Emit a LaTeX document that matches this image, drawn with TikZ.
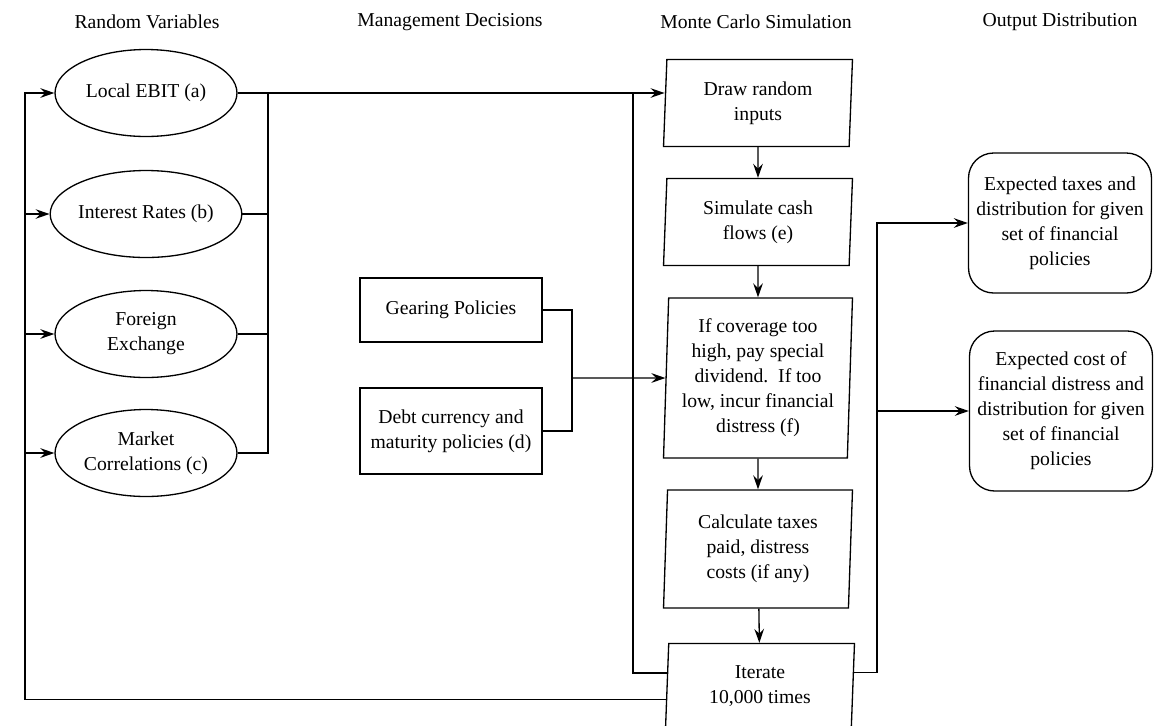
\documentclass[tikz,border=0pt]{standalone}
\usepackage{fontspec}
\setmainfont{Liberation Serif}
\usetikzlibrary{arrows.meta}
\usetikzlibrary{shapes.geometric}
\usetikzlibrary{positioning}

\begin{document}
\begin{tikzpicture}[x=0.02cm, y=-0.02cm, line width=0.75pt,
    font=\fontsize{11.2}{14.2}\selectfont,
    >={Stealth[length=8pt, width=5.5pt, inset=2.8pt]},
    randvar/.style={draw, ellipse, align=center, minimum width=3.64cm, minimum height=1.74cm, inner sep=0pt},
    policy/.style={draw, rectangle, align=center, minimum width=3.64cm, inner sep=0pt},
    simstep/.style={draw, trapezium, trapezium left angle=85.5, trapezium right angle=94.5,
      trapezium stretches body, align=center, minimum width=3.78cm, inner sep=0pt},
    result/.style={draw, rectangle, rounded corners=0.5cm, align=center, minimum width=3.66cm, inner sep=0pt},
    coltitle/.style={inner sep=0pt}]
      \useasboundingbox (0,0) rectangle (1163,725);
      \node [coltitle] (rvtitle) at (147,22) {Random Variables};
      \node [coltitle] (mdtitle) at (450,22) {Management Decisions};
      \node [coltitle] (mctitle) at (756,22) {Monte Carlo Simulation};
      \node [coltitle] (odtitle) at (1060,22) {Output Distribution};
      \node [randvar] (ebit) at (146,93) {Local EBIT (a)};
      \node [randvar] (rates) at (146,214) {Interest Rates (b)};
      \node [randvar] (fx) at (146,334) {Foreign\\Exchange};
      \node [randvar] (corr) at (146,453) {Market\\Correlations (c)};
      \node [policy, minimum height=1.28cm] (gear) at (451,310) {Gearing Policies};
      \node [policy, minimum height=1.72cm] (debt) at (451,431) {Debt currency and\\maturity policies (d)};
      \node [simstep, minimum height=1.74cm] (drawin) at (758,103) {Draw random\\inputs};
      \node [simstep, minimum height=1.74cm] (simcf) at (758,222) {Simulate cash\\flows (e)};
      \node [simstep, minimum height=3.2cm, trapezium left angle=87.5, trapezium right angle=92.5] (cover) at (758,378) {If coverage too\\high, pay special\\dividend.\ \ If too\\low, incur financial\\distress (f)};
      \node [simstep, minimum height=2.36cm, trapezium left angle=86.6, trapezium right angle=93.4] (calc) at (758,549) {Calculate taxes\\paid, distress\\costs (if any)};
      \node [simstep, minimum height=1.7cm] (iter) at (760,686) {Iterate\\10,000 times};
      \node [result, minimum height=2.8cm] (taxes) at (1060,223) {Expected taxes and\\distribution for given\\set of financial\\policies};
      \node [result, minimum height=3.2cm] (cost) at (1061,411) {Expected cost of\\financial distress and\\distribution for given\\set of financial\\policies};
      \coordinate (rvbus) at (268,93);
      \coordinate (mdbus) at (572,378);
      \coordinate (retL) at (25,699);
      \coordinate (retM) at (633,93);
      \coordinate (outbus) at (877,223);
      \draw [->] (ebit.east) -- (ebit.east -| drawin.west);
      \draw (rates.east) -- (rates.east -| rvbus);
      \draw (fx.east) -- (fx.east -| rvbus);
      \draw (corr.east) -| (rvbus);
      \draw (gear.east) -| (mdbus);
      \draw (debt.east) -| (mdbus);
      \draw [->] (mdbus) -- (cover.west);
      \draw [->] (drawin) -- (simcf);
      \draw [->] (simcf) -- (cover);
      \draw [->] (cover) -- (calc);
      \draw [->] (calc) -- (iter);
      \draw (iter.172) -| (retM);
      \draw [->] (iter.188) -| (retL) |- (ebit.west);
      \foreach \v in {rates, fx, corr}
        \draw [->] (retL |- \v.west) -- (\v.west);
      \draw [->] (iter.8) -| (outbus) -- (taxes.west);
      \draw [->] (outbus |- cost.west) -- (cost.west);
    \end{tikzpicture}
\end{document}
